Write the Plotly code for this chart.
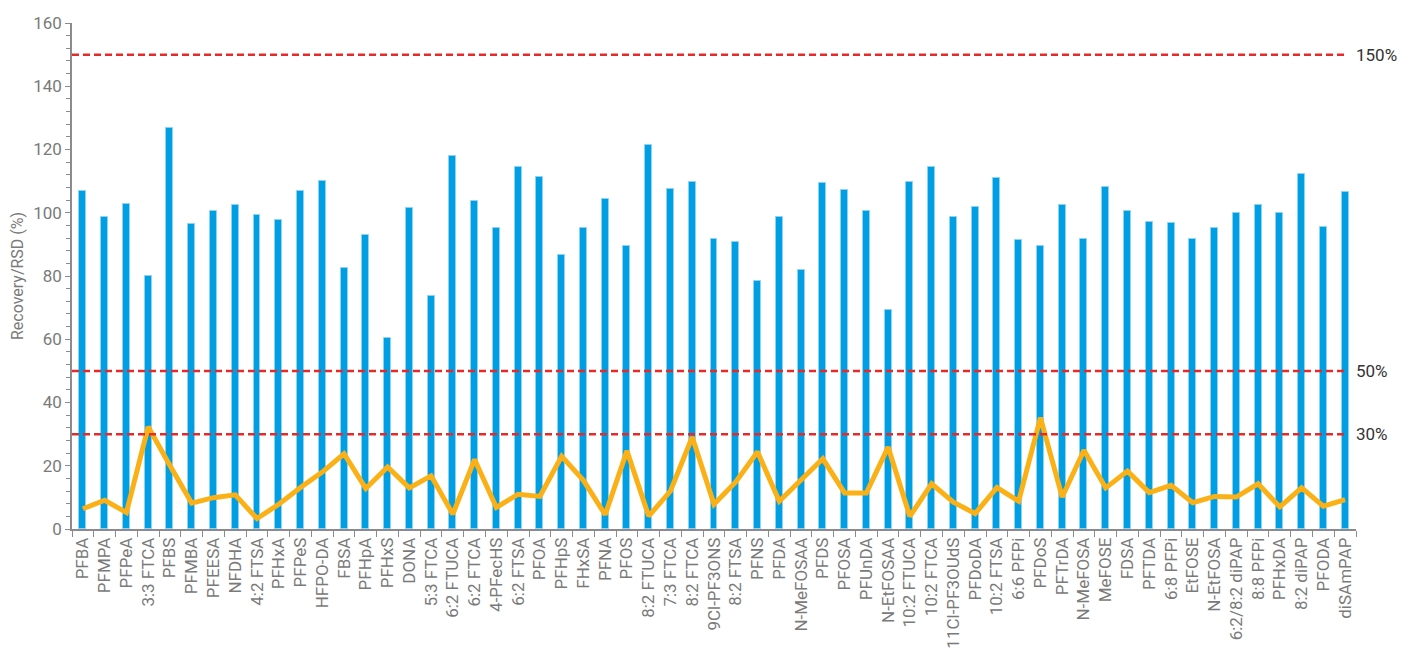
import plotly.graph_objects as go

compounds = [
    "PFBA", "PFMPA", "PFPeA", "3:3 FTCA", "PFBS", "PFMBA", "PFEESA", "NFDHA",
    "4:2 FTSA", "PFHxA", "PFPeS", "HFPO-DA", "FBSA", "PFHpA", "PFHxS", "DONA",
    "5:3 FTCA", "6:2 FTUCA", "6:2 FTCA", "4-PFecHS", "6:2 FTSA", "PFOA", "PFHpS",
    "FHxSA", "PFNA", "PFOS", "8:2 FTUCA", "7:3 FTCA", "8:2 FTCA", "9Cl-PF3ONS",
    "8:2 FTSA", "PFNS", "PFDA", "N-MeFOSAA", "PFDS", "PFOSA", "PFUnDA",
    "N-EtFOSAA", "10:2 FTUCA", "10:2 FTCA", "11Cl-PF3OUdS", "PFDoDA", "10:2 FTSA",
    "6:6 PFPi", "PFDoS", "PFTrDA", "N-MeFOSA", "MeFOSE", "FDSA", "PFTDA",
    "6:8 PFPi", "EtFOSE", "N-EtFOSA", "6:2/8:2 diPAP", "8:8 PFPi", "PFHxDA",
    "8:2 diPAP", "PFODA", "diSAmPAP",
]

recovery = [
    106.8, 98.6, 102.7, 80.1, 126.9, 96.6, 100.7, 102.5,
    99.2, 97.7, 106.9, 110.0, 82.4, 93.1, 60.4, 101.5,
    73.6, 118.1, 103.6, 95.3, 114.4, 111.4, 86.8,
    95.2, 104.4, 89.6, 121.4, 107.6, 109.8, 91.6,
    90.7, 78.3, 98.6, 81.8, 109.3, 107.3, 100.4,
    69.1, 109.7, 114.4, 98.5, 101.9, 110.9,
    91.5, 89.5, 102.4, 91.6, 108.0, 100.7, 97.0,
    96.7, 91.6, 95.3, 99.8, 102.5, 99.8,
    112.3, 95.6, 106.5,
]

rsd = [
    6.4, 9.1, 5.2, 32.3, 20.1, 8.2, 9.9, 10.8,
    3.3, 7.8, 13.1, 18.0, 23.8, 12.8, 19.6, 13.0,
    16.8, 4.7, 22.0, 6.8, 11.0, 10.3, 23.0,
    15.4, 4.5, 24.7, 4.1, 12.0, 29.1, 7.8,
    14.9, 24.4, 8.8, 15.4, 22.2, 11.4, 11.4,
    25.9, 4.0, 14.3, 8.5, 4.9, 13.1,
    8.8, 35.2, 10.1, 24.9, 13.0, 18.3, 11.5,
    13.8, 8.3, 10.3, 10.1, 14.3, 7.0,
    13.0, 7.2, 9.3,
]

limits = [150, 50, 30]
limit_labels = ["150%", "50%", "30%"]

BLUE = "#009FE3"
ORANGE = "#FBB116"
RED = "#E62A2A"
AXIS_GREY = "#8A8A8F"
TEXT_GREY = "#7A7A7A"
FONT = "Roboto"

fig = go.Figure()

fig.add_trace(go.Bar(
    x=compounds,
    y=recovery,
    width=0.32,
    marker=dict(color=BLUE, line=dict(color="#8FD3F2", width=1)),
    name="Recovery",
))

fig.add_trace(go.Scatter(
    x=compounds,
    y=rsd,
    mode="lines",
    line=dict(color=ORANGE, width=5),
    name="RSD",
))

# threshold lines with their right-hand labels
for level, label in zip(limits, limit_labels):
    fig.add_shape(
        type="line", xref="x", yref="y",
        x0=-0.5, x1=len(compounds) - 1, y0=level, y1=level,
        line=dict(color=RED, width=2.5, dash="7px,4px"),
        layer="above",
    )
    fig.add_annotation(
        x=1, xref="paper", xanchor="left", xshift=-2,
        y=level, yref="y", yanchor="middle",
        text=label, showarrow=False,
        font=dict(family=FONT, size=17, color="#333333"),
    )

fig.update_layout(
    width=1416,
    height=652,
    margin=dict(l=72, r=60, t=23, b=123),
    plot_bgcolor="white",
    paper_bgcolor="white",
    showlegend=False,
    bargap=0,
    font=dict(family=FONT, color=TEXT_GREY),
)

fig.update_xaxes(
    type="category",
    range=[-0.5, len(compounds) - 0.5],
    tickangle=-90,
    tickson="boundaries",
    ticks="outside",
    ticklen=6,
    tickcolor=AXIS_GREY,
    showline=True,
    linecolor=AXIS_GREY,
    linewidth=1.5,
    showgrid=False,
    automargin=False,
    tickfont=dict(family=FONT, size=17, color=TEXT_GREY),
)

fig.update_yaxes(
    range=[0, 160],
    dtick=20,
    ticks="outside",
    ticklen=5,
    tickcolor=AXIS_GREY,
    minor=dict(dtick=4, ticks="outside", ticklen=4, tickcolor=AXIS_GREY),
    showline=True,
    linecolor=AXIS_GREY,
    linewidth=1.5,
    showgrid=False,
    zeroline=False,
    automargin=False,
    tickfont=dict(family=FONT, size=17, color=TEXT_GREY),
    title=dict(text="Recovery/RSD (%)", standoff=6,
               font=dict(family=FONT, size=16, color=TEXT_GREY)),
)

fig.write_html("out.html")
